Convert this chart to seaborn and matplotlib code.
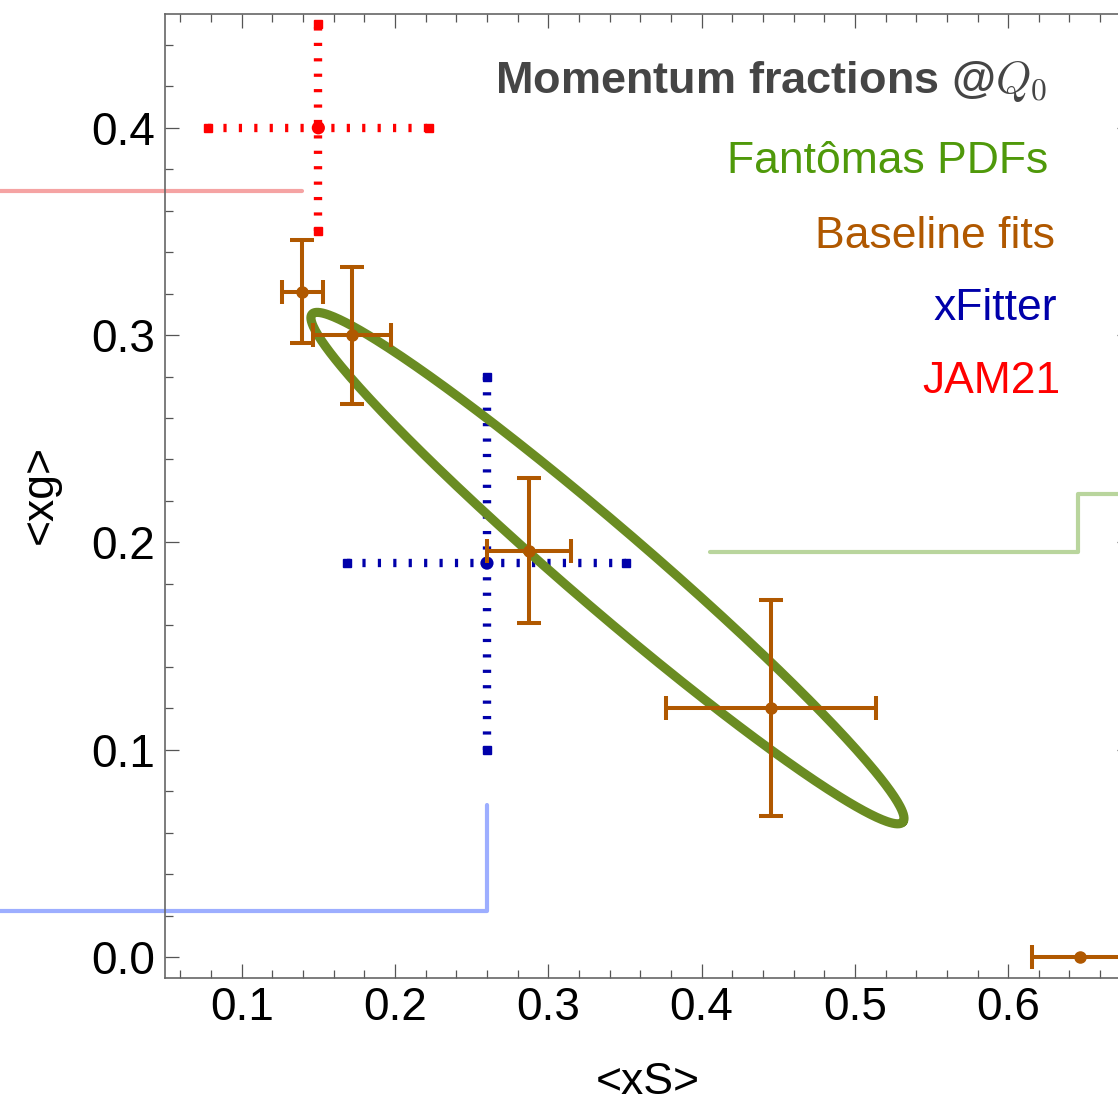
import numpy as np
import pandas as pd
import matplotlib
matplotlib.use("Agg")
import matplotlib.pyplot as plt
import seaborn as sns
from matplotlib.ticker import MultipleLocator, FormatStrFormatter

# Baseline fits: momentum fractions <xS>, <xg> with uncertainties
base_xs = [0.1395, 0.172, 0.2876, 0.4453, 0.647]
base_xg = [0.321, 0.300, 0.196, 0.120, 0.000]
base_xs_err = [0.0134, 0.0253, 0.0275, 0.0688, 0.0313]
base_xg_err = [0.025, 0.033, 0.035, 0.052, 0.0]

# xFitter result
xfit_xs = [0.260]
xfit_xg = [0.190]
xfit_xs_err = [0.091]
xfit_xg_err = [0.090]

# JAM21 result
jam_xs = [0.150]
jam_xg = [0.400]
jam_xs_err = [0.072]
jam_xg_err = [0.050]

# Fantomas PDFs confidence ellipse: centre and two conjugate semi-axes
ell_center = [0.3386, 0.1876]
ell_axis_a = [0.1927, -0.1225]
ell_axis_b = [-0.0170, -0.0146]

# Light guide lines
red_guide_x = [-0.07, 0.1393]
red_guide_y = [0.3695, 0.3695]
green_guide_x = [0.4055, 0.6456, 0.6456, 0.72]
green_guide_y = [0.1954, 0.1954, 0.2233, 0.2233]
blue_guide_x = [-0.07, 0.260, 0.260]
blue_guide_y = [0.0222, 0.0222, 0.0733]

# Labels
legend_labels = ["Fantômas PDFs", "Baseline fits", "xFitter", "JAM21"]
title_text = r"Momentum fractions @$Q_0$"

C_GREEN = "#6a8c22"
C_GREEN_TXT = "#4f990a"
C_BASE = "#b05800"
C_XFIT = "#0000aa"
C_JAM = "#ff0000"

sns.set_theme(style="white")
plt.rcParams["font.family"] = ["Liberation Sans", "DejaVu Sans"]
plt.rcParams["mathtext.fontset"] = "cm"
plt.rcParams["lines.scale_dashes"] = False

W, H = 1118, 1107
fig = plt.figure(figsize=(W / 100, H / 100), dpi=100)
fig.patch.set_facecolor("white")

# axes frame in pixel units
x_left, x_right = 165.05, 1130.8
y_top, y_bottom = 13.8, 977.7
ax = fig.add_axes([x_left / W, 1 - y_bottom / H, (x_right - x_left) / W, (y_bottom - y_top) / H])
ax.set_facecolor("white")
ax.set_xlim(0.05, 0.68)
ax.set_ylim(-0.01, 0.455)

# guide lines drawn beyond the frame
for gx, gy, col in [(red_guide_x, red_guide_y, "#f5a3a3"),
                    (green_guide_x, green_guide_y, "#b9d59d"),
                    (blue_guide_x, blue_guide_y, "#9daeff")]:
    ax.plot(gx, gy, color=col, lw=3.0, clip_on=False, zorder=1,
            solid_joinstyle="round", solid_capstyle="round")

# Fantomas ellipse
t = np.linspace(0, 2 * np.pi, 400)
ell = pd.DataFrame({
    "xs": ell_center[0] + np.cos(t) * ell_axis_a[0] + np.sin(t) * ell_axis_b[0],
    "xg": ell_center[1] + np.cos(t) * ell_axis_a[1] + np.sin(t) * ell_axis_b[1],
})
sns.lineplot(data=ell, x="xs", y="xg", sort=False, estimator=None, ax=ax,
             color=C_GREEN, lw=6.6, zorder=3)


def dotted_cross(xc, yc, ex, ey, col):
    style = dict(color=col, lw=6.0, linestyle=(0, (2.3, 8.8)),
                 dash_capstyle="butt", zorder=2)
    ax.plot([xc - ex, xc + ex], [yc, yc], **style)
    ax.plot([xc, xc], [yc - ey, yc + ey], **style)
    ax.plot([xc - ex, xc + ex], [yc, yc], ls="none", marker="s", ms=5.5,
            color=col, zorder=2)
    ax.plot([xc, xc], [yc - ey, yc + ey], ls="none", marker="s", ms=5.5,
            color=col, zorder=2)


dotted_cross(xfit_xs[0], xfit_xg[0], xfit_xs_err[0], xfit_xg_err[0], C_XFIT)
dotted_cross(jam_xs[0], jam_xg[0], jam_xs_err[0], jam_xg_err[0], C_JAM)
pts = pd.DataFrame({"xs": xfit_xs + jam_xs, "xg": xfit_xg + jam_xg,
                    "set": ["xFitter", "JAM21"]})
sns.scatterplot(data=pts, x="xs", y="xg", hue="set",
                palette={"xFitter": C_XFIT, "JAM21": C_JAM},
                s=90, edgecolor="none", legend=False, ax=ax, zorder=4)

# Baseline fits with error bars
for xs, xg, exs, exg in zip(base_xs, base_xg, base_xs_err, base_xg_err):
    ax.errorbar(xs, xg, xerr=exs, yerr=(exg if exg > 0 else None),
                fmt="o", ms=8, color=C_BASE, elinewidth=2.9,
                capsize=8.5, capthick=2.9, zorder=5)

# frame and ticks
ax.xaxis.set_major_locator(MultipleLocator(0.1))
ax.xaxis.set_minor_locator(MultipleLocator(0.02))
ax.yaxis.set_major_locator(MultipleLocator(0.1))
ax.yaxis.set_minor_locator(MultipleLocator(0.02))
ax.xaxis.set_major_formatter(FormatStrFormatter("%.1f"))
ax.yaxis.set_major_formatter(FormatStrFormatter("%.1f"))
ax.tick_params(which="both", direction="in", top=True, right=True,
               bottom=True, left=True, labeltop=False, labelright=False,
               color="#555555", width=0.9, labelsize=33, labelcolor="black")
ax.tick_params(which="major", length=10)
ax.tick_params(which="minor", length=5.8)
ax.tick_params(axis="x", which="major", pad=6)
ax.tick_params(axis="y", which="major", pad=7)
for s in ax.spines.values():
    s.set_color("#666666")
    s.set_linewidth(1.2)
ax.grid(False)

ax.set_xlabel("<xS>", fontsize=32, color="black", va="center")
ax.set_ylabel("<xg>", fontsize=32, color="black", va="center")
ax.xaxis.set_label_coords((648 - x_left) / (x_right - x_left), (y_bottom - 1083) / (y_bottom - y_top))
ax.yaxis.set_label_coords((40 - x_left) / (x_right - x_left), (y_bottom - 495) / (y_bottom - y_top))

# title and legend texts, right aligned
fig.text(1047 / W, 1 - 93 / H, title_text, ha="right", va="baseline",
         fontsize=32.5, fontweight="bold", color="#454545")
leg_colors = [C_GREEN_TXT, C_BASE, C_XFIT, C_JAM]
leg_right = [1048, 1055, 1057, 1060]
leg_base = [173, 248, 320, 393]
for lab, col, xr, yb in zip(legend_labels, leg_colors, leg_right, leg_base):
    fig.text(xr / W, 1 - yb / H, lab, ha="right", va="baseline",
             fontsize=32, color=col)

fig.savefig("out.png", dpi=100, facecolor="white")
